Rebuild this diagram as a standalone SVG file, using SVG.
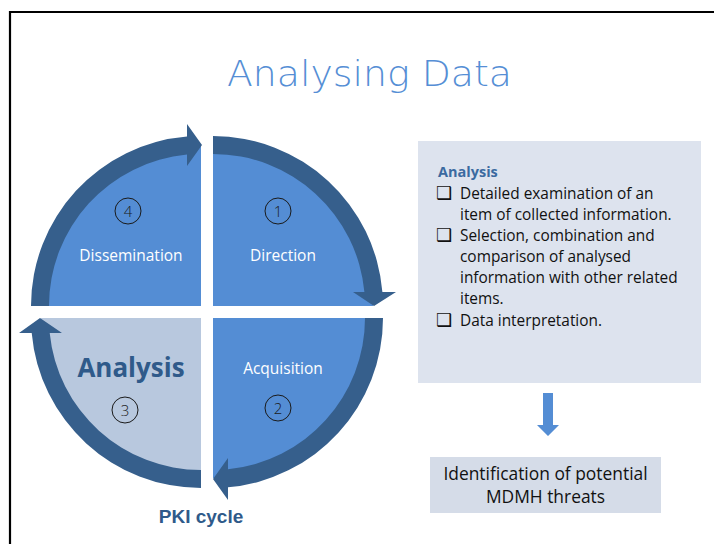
<svg xmlns="http://www.w3.org/2000/svg" width="714" height="544" viewBox="0 0 714 544">
<style>
  .frame{fill:none;stroke:#000;stroke-width:2.2}
  .q{fill:#548dd4}
  .qa{fill:#b8c8de}
  .band{fill:#365f8c}
  .num{fill:none;stroke:#1a1a1a;stroke-width:1}
  .numt{font-family:"Open Sans","DejaVu Sans",sans-serif;font-size:15px;font-weight:300;fill:#1a1a1a;text-anchor:middle}
  .ql{font-family:"Open Sans","Noto Sans",sans-serif;font-size:15.5px;fill:#ffffff;text-anchor:middle}
  .body{font-family:"Open Sans","Noto Sans",sans-serif;font-size:15.4px;fill:#111}
  .chk{font-family:"DejaVu Sans",sans-serif;font-size:18px;fill:#111}
</style>
<rect width="714" height="544" fill="#fff"/>
<path class="frame" d="M10,544 L10,12 L714,12"/>
<text x="369.5" y="86" font-family="'DejaVu Sans',sans-serif" font-size="36" font-weight="200" fill="#558ed5" text-anchor="middle" textLength="285" lengthAdjust="spacingAndGlyphs">Analysing Data</text>

<g id="dissemination">
  <path class="q" d="M201,306 L41,306 A160,160 0 0 1 201,146 Z"/>
  <path class="band" d="M31,306 A170,170 0 0 1 187,136.6 L187,124 L202,145 L187,166 L187,154.6 A152,152 0 0 0 49,306 Z"/>
  <circle class="num" cx="128" cy="211" r="13"/>
  <text class="numt" x="128" y="216.5">4</text>
  <text class="ql" x="131" y="261">Dissemination</text>
</g>
<g id="direction">
  <path class="q" d="M213,306 L213,146 A160,160 0 0 1 373,306 Z"/>
  <path class="band" d="M213,136 A170,170 0 0 1 382.4,292 L396,292 L374,306 L353,292 L364.4,292 A152,152 0 0 0 213,154 Z"/>
  <circle class="num" cx="278" cy="211" r="13"/>
  <text class="numt" x="278" y="216.5">1</text>
  <text class="ql" x="283" y="261">Direction</text>
</g>
<g id="acquisition">
  <path class="q" d="M213,318 L373,318 A160,160 0 0 1 213,478 Z"/>
  <path class="band" d="M383,318 A170,170 0 0 1 228,487.3 L228,500 L213,479 L228,458 L228,469.3 A152,152 0 0 0 365,318 Z"/>
  <circle class="num" cx="278" cy="408" r="13"/>
  <text class="numt" x="278" y="413.5">2</text>
  <text class="ql" x="283" y="374">Acquisition</text>
</g>
<g id="analysis">
  <path class="qa" d="M201,318 L201,478 A160,160 0 0 1 41,318 Z"/>
  <path class="band" d="M201,488 A170,170 0 0 1 31.7,333 L19,333 L40,318 L62,333 L49.7,333 A152,152 0 0 0 201,470 Z"/>
  <text x="131" y="377" font-family="'Open Sans','Noto Sans',sans-serif" font-size="26" font-weight="bold" fill="#2f5a8a" text-anchor="middle">Analysis</text>
  <circle class="num" cx="125" cy="410" r="13"/>
  <text class="numt" x="125" y="415.5">3</text>
</g>
<text x="201" y="523" font-family="'Liberation Sans',Arial,sans-serif" font-size="19" font-weight="bold" fill="#2f5a8a" text-anchor="middle">PKI cycle</text>

<g id="analysis-box">
  <rect x="418" y="141" width="283" height="242" fill="#dde3ee"/>
  <text x="438" y="177" font-family="'Open Sans','Noto Sans',sans-serif" font-size="14.5" font-weight="bold" fill="#3b6aa0">Analysis</text>
  <text class="chk" x="436" y="199">❑</text>
  <text class="body" x="460" y="199">Detailed examination of an</text>
  <text class="body" x="460" y="220">item of collected information.</text>
  <text class="chk" x="436" y="241">❑</text>
  <text class="body" x="460" y="241">Selection, combination and</text>
  <text class="body" x="460" y="262">comparison of analysed</text>
  <text class="body" x="460" y="283">information with other related</text>
  <text class="body" x="460" y="304">items.</text>
  <text class="chk" x="436" y="326">❑</text>
  <text class="body" x="460" y="326">Data interpretation.</text>
</g>
<g id="connectors">
  <path d="M543,393 L553,393 L553,425 L559,425 L548,436 L537,425 L543,425 Z" fill="#548dd4"/>
</g>
<g id="threats-box">
  <rect x="430" y="457" width="231" height="56" fill="#d5dce8"/>
  <text x="545.5" y="480" font-family="'Open Sans','Noto Sans',sans-serif" font-size="17.4" fill="#111" text-anchor="middle">Identification of potential</text>
  <text x="545.5" y="503" font-family="'Open Sans','Noto Sans',sans-serif" font-size="17.4" fill="#111" text-anchor="middle">MDMH threats</text>
</g>
</svg>
